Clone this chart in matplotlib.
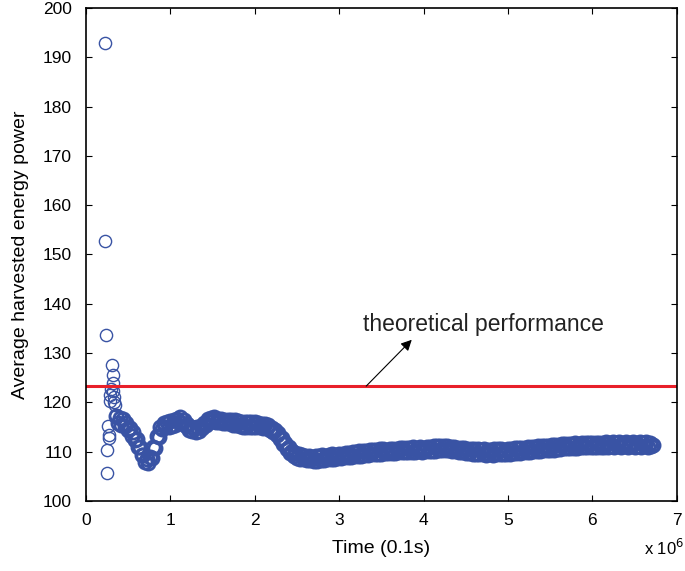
import numpy as np
import matplotlib
matplotlib.use("Agg")
import matplotlib.pyplot as plt

# ---- data (time in units of 1e6 x 0.1s) ----
early_t = [0.22, 0.23, 0.235, 0.245, 0.255, 0.262, 0.27, 0.275, 0.285, 0.29,
           0.30, 0.31, 0.315, 0.32, 0.325, 0.33, 0.335, 0.34, 0.35]
early_v = [192.8, 152.8, 133.6, 105.7, 110.3, 115.2, 112.8, 113.4, 120.2, 121.6,
           122.8, 127.5, 125.6, 124.0, 122.3, 121.0, 120.0, 119.5, 117.5]

dense_t0, dense_t1 = 0.36, 6.72
dense_v = [
    117.2, 115.8, 116.9, 115.4, 116.6, 115.2,
    115.8, 114.3, 114.9, 113.2, 113.9, 112.3,
    112.6, 110.9, 111.0, 109.3, 109.4, 108.0,
    108.6, 107.8, 108.9, 108.7, 110.9, 110.8,
    113.2, 113.0, 115.0, 114.6, 115.8, 115.0,
    116.0, 115.0, 116.2, 115.2, 116.4, 115.4,
    116.6, 116.0, 117.1, 115.9, 116.4, 115.2,
    115.7, 114.5, 115.1, 114.1, 114.9, 114.0,
    115.0, 114.1, 115.3, 114.8, 115.9, 115.4,
    116.6, 116.0, 116.8, 116.2, 117.0, 116.0,
    116.7, 116.1, 116.6, 115.9, 116.5, 115.9,
    116.4, 115.8, 116.5, 115.5, 116.4, 115.4,
    116.3, 115.2, 116.1, 115.1, 116.0, 115.0,
    116.0, 115.1, 116.1, 115.0, 116.0, 115.1,
    115.8, 115.1, 115.7, 114.9, 115.6, 114.8,
    115.4, 114.5, 114.9, 113.9, 114.4, 113.4,
    113.8, 112.6, 112.8, 111.6, 111.8, 110.6,
    110.9, 109.7, 110.1, 109.1, 109.7, 108.8,
    109.5, 108.6, 109.3, 108.5, 109.2, 108.4,
    109.1, 108.3, 109.0, 108.2, 109.1, 108.2,
    109.2, 108.3, 109.3, 108.4, 109.2, 108.5,
    109.4, 108.5, 109.5, 108.6, 109.4, 108.7,
    109.6, 108.7, 109.6, 108.9, 109.7, 108.9,
    109.8, 109.0, 109.9, 109.1, 109.9, 109.1,
    110.1, 109.2, 110.1, 109.4, 110.2, 109.3,
    110.3, 109.5, 110.3, 109.6, 110.4, 109.5,
    110.5, 109.6, 110.5, 109.8, 110.4, 109.7,
    110.5, 109.8, 110.6, 109.7, 110.6, 109.9,
    110.7, 109.9, 110.7, 110.0, 110.8, 109.9,
    110.7, 110.0, 110.9, 110.0, 110.8, 110.1,
    110.9, 110.0, 110.8, 110.1, 111.0, 110.1,
    111.0, 110.2, 111.1, 110.2, 111.2, 110.3,
    111.1, 110.4, 111.2, 110.3, 111.1, 110.3,
    111.0, 110.1, 110.9, 110.1, 110.8, 109.9,
    110.7, 109.9, 110.8, 109.7, 110.6, 109.8,
    110.5, 109.6, 110.6, 109.5, 110.5, 109.6,
    110.4, 109.6, 110.5, 109.4, 110.4, 109.5,
    110.4, 109.4, 110.5, 109.5, 110.5, 109.5,
    110.5, 109.6, 110.4, 109.6, 110.6, 109.6,
    110.6, 109.7, 110.7, 109.8, 110.7, 109.8,
    110.8, 109.9, 110.8, 110.0, 110.9, 110.0,
    110.9, 110.1, 111.0, 110.1, 111.1, 110.2,
    111.1, 110.3, 111.2, 110.4, 111.2, 110.4,
    111.3, 110.4, 111.4, 110.6, 111.4, 110.6,
    111.5, 110.7, 111.5, 110.7, 111.6, 110.8,
    111.6, 110.8, 111.7, 110.8, 111.6, 110.9,
    111.7, 110.9, 111.8, 110.9, 111.7, 111.0,
    111.8, 110.9, 111.7, 111.0, 111.8, 111.0,
    111.8, 111.0, 111.9, 111.0, 111.8, 111.1,
    111.9, 111.0, 111.8, 111.1, 111.9, 111.0,
    111.8, 111.1, 111.9, 111.0, 111.8, 111.1,
    111.9, 111.0, 111.8, 111.1, 111.9, 111.0,
    111.8, 111.1, 111.9, 111.0, 111.8, 111.1,
    111.4,
]
dense_t = np.linspace(dense_t0, dense_t1, len(dense_v))

theoretical = 123.3
x_ticks = [0, 1, 2, 3, 4, 5, 6, 7]
y_ticks = [100, 110, 120, 130, 140, 150, 160, 170, 180, 190, 200]

blue = "#3953a4"
red = "#e8202a"

fig = plt.figure(figsize=(6.85, 5.71), dpi=100)
ax = fig.add_axes([0.1255, 0.1226, 0.8625, 0.8634])

ax.plot(dense_t, dense_v, linestyle="none", marker="o", markersize=9.5,
        markerfacecolor="none", markeredgecolor=blue, markeredgewidth=2.0)
ax.plot(early_t, early_v, linestyle="none", marker="o", markersize=8.8,
        markerfacecolor="none", markeredgecolor=blue, markeredgewidth=1.0)

ax.axhline(theoretical, color=red, linewidth=2.2)

ax.set_xlim(0, 7)
ax.set_ylim(100, 200)
ax.set_xticks(x_ticks)
ax.set_yticks(y_ticks)
ax.tick_params(axis="both", direction="in", top=True, right=True, length=4,
               width=0.8, labelsize=12.5)
ax.tick_params(axis="y", pad=10)
ax.tick_params(axis="x", pad=9)
for lab in ax.get_xticklabels() + ax.get_yticklabels():
    lab.set_family("Liberation Sans")
for s in ax.spines.values():
    s.set_linewidth(1.2)

ax.set_xlabel("Time (0.1s)", fontsize=14, family="Liberation Sans", labelpad=8)
ax.set_ylabel("Average harvested energy power", fontsize=14,
              family="Liberation Sans", labelpad=10)

ax.annotate("", xy=(3.86, 132.7), xytext=(3.32, theoretical),
            arrowprops=dict(arrowstyle="-|>", color="black", lw=0.8,
                            mutation_scale=16, shrinkA=0, shrinkB=0))
ax.text(3.28, 135.7, "theoretical performance", fontsize=16.5,
        family="Liberation Sans", color="#222222", va="center", ha="left")

fig.text(0.94, 0.04, r"x 10$^{6}$", fontsize=12, family="Liberation Sans",
         ha="left", va="center")

fig.savefig("out.png", dpi=100)
